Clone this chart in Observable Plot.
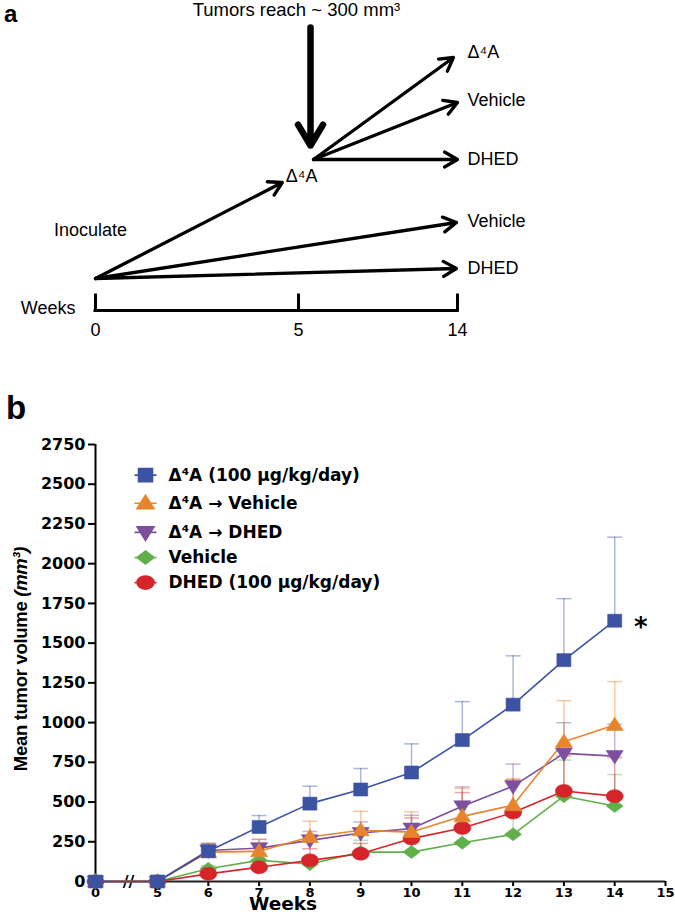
<!DOCTYPE html>
<html><head><meta charset="utf-8">
<script src="https://cdn.jsdelivr.net/npm/d3@7"></script>
<script src="https://cdn.jsdelivr.net/npm/@observablehq/plot@0.6"></script>
<style>
html,body{margin:0;padding:0;background:#fff;}
#wrap{position:relative;width:675px;height:915px;overflow:hidden;background:#fff;}
#pa{position:absolute;left:0;top:0;}
#pb{position:absolute;left:0;top:380px;}
.lab{position:absolute;font-family:"Liberation Sans",Arial,sans-serif;font-weight:bold;line-height:1;white-space:nowrap;color:#000;}
#ytitle{left:21px;top:659px;font-size:18.5px;transform:translate(-50%,-50%) rotate(-90deg);letter-spacing:-0.3px;}
#xtitle{left:283px;top:895.5px;font-size:18.5px;line-height:16px;font-family:"DejaVu Sans",sans-serif;transform:translateX(-50%);}
#pb g[aria-label^="x-axis"]{font-size:13px;}
#pb g[aria-label^="y-axis"]{font-size:16px;}
#pb g[aria-label^="y-axis"] path,#pb g[aria-label^="y-axis"] line,#pb g[aria-label^="x-axis"] path,#pb g[aria-label^="x-axis"] line{stroke-width:2px;}
</style></head><body>
<div id="wrap">
  <div id="pa"></div>
  <div id="pb"></div>
  <div class="lab" style="left:4px;top:1.5px;font-size:24px;line-height:24px">a</div>
  <div class="lab" style="left:6px;top:391px;font-size:33px">b</div>
  <div class="lab" id="ytitle">Mean tumor volume <i>(mm³)</i></div>
  <div class="lab" id="xtitle">Weeks</div>
</div>
<script>
// ---------- Panel a: study schematic (x = weeks, y = schematic level) ----------
const timelineTicks = [0, 5, 14];
const branchArrows = [
  {x1: 0, y1: 3.2, x2: 4.6, y2: 12.8},
  {x1: 0, y1: 3.2, x2: 13.94, y2: 8.8},
  {x1: 0, y1: 3.2, x2: 13.94, y2: 4.2},
  {x1: 5.85, y1: 15.1, x2: 13.77, y2: 25.3},
  {x1: 5.85, y1: 15.1, x2: 14, y2: 20.8},
  {x1: 5.85, y1: 15.1, x2: 14, y2: 15.1}
];
const downArrow = [{x1: 5.68, y1: 28.3, x2: 5.68, y2: 16.5}];
const endLabels = ["Δ⁴A", "Vehicle", "DHED", "Vehicle", "DHED"];
const endLevels = [25.8, 21.0, 15.1, 8.9, 4.2];
const midLabel = [{x: 5.17, y: 13.4, text: "Δ⁴A"}];
const topLabel = [{x: 4.95, y: 30, text: "Tumors reach ~ 300 mm³"}];
const inocLabel = [{x: 0, y: 8, text: "Inoculate"}];

// ---------- Panel b: tumor growth ----------
const weeks = [0, 5, 6, 7, 8, 9, 10, 11, 12, 13, 14];
const seriesNames = ["Δ⁴A (100 μg/kg/day)", "Δ⁴A → Vehicle", "Δ⁴A → DHED", "Vehicle", "DHED (100 μg/kg/day)"];
const seriesColors = ["#3c53a3", "#e8852c", "#7c4f9f", "#5fb04b", "#d6252a"];
const d4aMean   = [0, 0, 190, 343, 490, 579, 686, 890, 1113, 1393, 1641];
const d4aErr    = [0, 0, 45, 72, 110, 132, 180, 242, 307, 387, 526];
const d4aVehMean = [0, 0, 185, 190, 280, 322, 311, 410, 480, 880, 985];
const d4aVehErr  = [0, 0, 55, 75, 99, 120, 127, 175, 168, 258, 273];
const d4aDhedMean = [0, 0, 195, 210, 259, 305, 333, 473, 600, 806, 789];
const d4aDhedErr  = [0, 0, 45, 55, 56, 70, 84, 122, 139, 193, 201];
const vehMean  = [0, 0, 80, 133, 110, 185, 185, 244, 297, 537, 475];
const vehErr   = [0, 0, 20, 37, 40, 75, 115, 86, 153, 227, 198];
const dhedMean = [0, 0, 48, 90, 133, 175, 270, 337, 434, 570, 537];
const dhedErr  = [0, 0, 12, 40, 73, 65, 130, 223, 206, 220, 243];
const xTicks = [0, 5, 6, 7, 8, 9, 10, 11, 12, 13, 14, 15];
const yTicks = [0, 250, 500, 750, 1000, 1250, 1500, 1750, 2000, 2250, 2500, 2750];
const legendLevels = [2557, 2380, 2197, 2039, 1881];
const significance = [{week: 14, value: 1641, label: "*"}];
const axisBreak = [{week: 2.66, value: 0, label: "//"}];

// ---------- marker shapes ----------
const symSquare = {draw(c) { c.moveTo(-7, -6.5); c.lineTo(7, -6.5); c.lineTo(7, 6.5); c.lineTo(-7, 6.5); c.closePath(); }};
const symTriUp = {draw(c) { c.moveTo(0, -8); c.lineTo(8.5, 5.5); c.lineTo(-8.5, 5.5); c.closePath(); }};
const symTriDown = {draw(c) { c.moveTo(0, 8); c.lineTo(8.5, -5.5); c.lineTo(-8.5, -5.5); c.closePath(); }};
const symDiamond = {draw(c) { c.moveTo(0, -6.5); c.lineTo(8.5, 0); c.lineTo(0, 6.5); c.lineTo(-8.5, 0); c.closePath(); }};
const symEllipse = {draw(c) {
  const rx = 8.5, ry = 6.5, k = 0.5523;
  c.moveTo(-rx, 0);
  c.bezierCurveTo(-rx, -ry * k, -rx * k, -ry, 0, -ry);
  c.bezierCurveTo(rx * k, -ry, rx, -ry * k, rx, 0);
  c.bezierCurveTo(rx, ry * k, rx * k, ry, 0, ry);
  c.bezierCurveTo(-rx * k, ry, -rx, ry * k, -rx, 0);
  c.closePath();
}};
const symCap = {draw(c) { c.moveTo(-7.5, 0); c.lineTo(7.5, 0); }};
const withLine = (s) => ({draw(c, size) { s.draw(c, size); c.moveTo(-11, 0); c.lineTo(11, 0); }});
const seriesSymbols = [symSquare, symTriUp, symTriDown, symDiamond, symEllipse];

const means = [d4aMean, d4aVehMean, d4aDhedMean, vehMean, dhedMean];
const errs = [d4aErr, d4aVehErr, d4aDhedErr, vehErr, dhedErr];
const series = seriesNames.map((name, i) => ({
  name, color: seriesColors[i], symbol: seriesSymbols[i],
  rows: weeks.map((w, j) => ({week: w, mean: means[i][j], err: errs[i][j]}))
}));
const drawOrder = [3, 4, 2, 1, 0];

// ---------- Panel a plot ----------
const pa = Plot.plot({
  width: 675, height: 345,
  marginTop: 0, marginBottom: 0, marginLeft: 0, marginRight: 0,
  x: {type: "linear", domain: [0, 5, 14], range: [95, 298, 457], axis: null},
  y: {type: "linear", domain: [0, 31], range: [310, 0], axis: null},
  style: {fontFamily: "'Liberation Sans', Arial, sans-serif", fontSize: "18px", background: "white", overflow: "visible", color: "black"},
  marks: [
    Plot.ruleY([0], {x1: 0, x2: 14, stroke: "black", strokeWidth: 3, strokeLinecap: "square"}),
    Plot.ruleX(timelineTicks, {x: d => d, y1: 0, y2: 1.5, stroke: "black", strokeWidth: 3, strokeLinecap: "square"}),
    Plot.text(timelineTicks, {x: d => d, y: -2, text: d => String(d), fontSize: 18, fill: "black"}),
    Plot.text(["Weeks"], {x: 0, y: 0.2, dx: -20, text: d => d, textAnchor: "end", fontSize: 18, fill: "black"}),
    Plot.arrow(branchArrows, {x1: "x1", y1: "y1", x2: "x2", y2: "y2", stroke: "black", strokeWidth: 3.3, headLength: 6.8, headAngle: 60, strokeLinejoin: "miter"}),
    Plot.arrow(downArrow, {x1: "x1", y1: "y1", x2: "x2", y2: "y2", stroke: "black", strokeWidth: 6.5, headLength: 5.6, headAngle: 62, strokeLinejoin: "miter"}),
    Plot.text(endLabels, {x: 14, y: (d, i) => endLevels[i], text: d => d, dx: 10, textAnchor: "start", fontSize: 18, fill: "black"}),
    Plot.text(midLabel, {x: "x", y: "y", text: "text", fontSize: 18, fill: "black"}),
    Plot.text(topLabel, {x: "x", y: "y", text: "text", fontSize: 18.5, fill: "black"}),
    Plot.text(inocLabel, {x: "x", y: "y", text: "text", dx: -5, fontSize: 18, fill: "black"})
  ]
});
document.getElementById("pa").append(pa);

// ---------- Panel b plot ----------
const marksB = [];
for (const i of drawOrder) {
  const s = series[i];
  const withErr = s.rows.filter(r => r.err > 0);
  marksB.push(Plot.ruleX(withErr, {x: "week", y1: "mean", y2: r => r.mean + r.err, stroke: s.color, strokeOpacity: 0.42, strokeWidth: 1.5}));
  marksB.push(Plot.dot(withErr, {x: "week", y: r => r.mean + r.err, symbol: symCap, fill: "none", stroke: s.color, strokeOpacity: 0.42, strokeWidth: 1.5}));
}
marksB.push(Plot.ruleX([0], {x: d => d, y1: 0, y2: 2750, stroke: "black", strokeWidth: 2}));
marksB.push(Plot.ruleY([0], {y: d => d, x1: 0, x2: 15, stroke: "#222", strokeWidth: 2}));
marksB.push(Plot.text(axisBreak, {x: "week", y: "value", text: "label", fontSize: 16, fontWeight: "bold", fill: "black"}));
for (const i of drawOrder) {
  const s = series[i];
  marksB.push(Plot.line(s.rows, {x: "week", y: "mean", stroke: s.color, strokeWidth: 1.6}));
}
for (const i of drawOrder) {
  const s = series[i];
  marksB.push(Plot.dot(s.rows, {x: "week", y: "mean", symbol: s.symbol, fill: s.color, stroke: s.color, strokeWidth: 0.6}));
}
series.forEach((s, i) => {
  marksB.push(Plot.dot([legendLevels[i]], {y: d => d, frameAnchor: "left", dx: 50, symbol: withLine(s.symbol), fill: s.color, stroke: s.color, strokeWidth: 1.6}));
  marksB.push(Plot.text([s.name], {y: () => legendLevels[i], text: d => d, frameAnchor: "left", dx: 73, textAnchor: "start", fontSize: 17, fontWeight: "bold", fill: "black"}));
});
marksB.push(Plot.text(significance, {x: "week", y: "value", text: "label", dx: 26, dy: 7, fontSize: 26, fontWeight: "bold", fill: "black"}));

const pb = Plot.plot({
  width: 675, height: 535,
  marginLeft: 95, marginRight: 10, marginTop: 64, marginBottom: 34,
  x: {type: "linear", domain: [0, 5, 15], range: [95, 157, 665], ticks: xTicks, tickSize: 5, tickPadding: 1, tickFormat: d => String(d), label: null},
  y: {type: "linear", domain: [0, 2750], ticks: yTicks, tickSize: 7, tickPadding: 3, tickFormat: d => String(d), label: null},
  style: {fontFamily: "'DejaVu Sans', sans-serif", fontWeight: "bold", fontSize: "16px", background: "white", overflow: "visible", color: "black"},
  marks: marksB
});
document.getElementById("pb").append(pb);
</script>
</body></html>
